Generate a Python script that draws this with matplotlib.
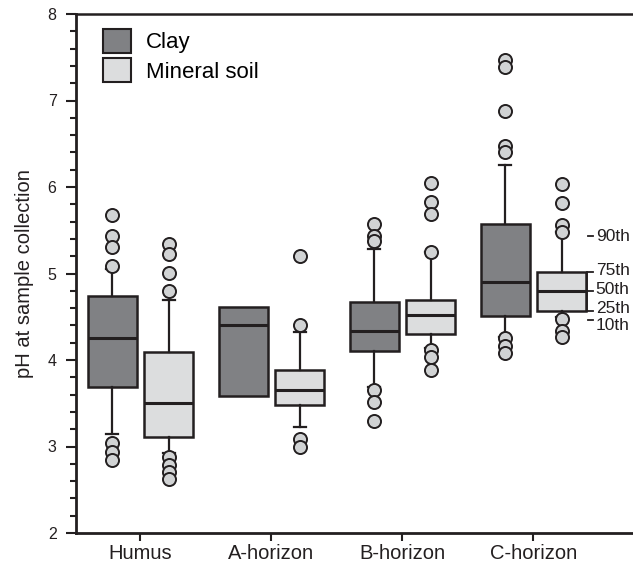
import matplotlib
matplotlib.use("Agg")
import matplotlib.pyplot as plt
from matplotlib.patches import Patch
from matplotlib.ticker import MultipleLocator

plt.rcParams['font.family'] = ['Liberation Sans', 'DejaVu Sans']

horizons = ['Humus', 'A-horizon', 'B-horizon', 'C-horizon']
series = ['Clay', 'Mineral soil']

# box statistics (pH)
clay_q1 = [3.69, 3.58, 4.10, 4.51]
clay_med = [4.25, 4.40, 4.34, 4.90]
clay_q3 = [4.74, 4.61, 4.67, 5.57]
clay_lo = [3.14, 3.58, 3.69, 4.27]
clay_hi = [5.05, 4.61, 5.28, 6.25]
clay_out = [[5.68, 5.43, 5.31, 5.09, 3.04, 2.94, 2.84],
            [],
            [5.57, 5.43, 5.37, 3.65, 3.52, 3.30],
            [7.47, 7.39, 6.88, 6.47, 6.40, 4.25, 4.16, 4.08]]

min_q1 = [3.11, 3.48, 4.30, 4.57]
min_med = [3.50, 3.65, 4.52, 4.80]
min_q3 = [4.09, 3.88, 4.69, 5.02]
min_lo = [2.92, 3.23, 4.14, 4.50]
min_hi = [4.69, 4.32, 5.25, 5.48]
min_out = [[5.34, 5.23, 5.01, 4.80, 2.88, 2.79, 2.71, 2.62],
           [5.20, 4.40, 3.09, 2.99],
           [6.05, 5.83, 5.69, 5.25, 4.12, 4.04, 3.89],
           [6.04, 5.82, 5.56, 5.48, 4.47, 4.33, 4.27]]

# percentile key next to the C-horizon mineral soil box
key_labels = ['90th', '75th', '50th', '25th', '10th']
key_marks = [5.43, 5.02, 4.80, 4.57, 4.46]
key_text_y = [5.43, 5.04, 4.81, 4.60, 4.40]

clay_col = '#808184'
min_col = '#dcddde'
edge = '#231f20'
flier_col = '#d1d3d4'

fig = plt.figure(figsize=(6.33, 5.65), dpi=100)
ax = fig.add_axes([76 / 633, 32 / 565, 556 / 633, 519 / 565])

off = 0.2157
width = 0.374


def make_stats(q1, med, q3, lo, hi, out):
    return [dict(q1=a, med=b, q3=c, whislo=d, whishi=e, fliers=f)
            for a, b, c, d, e, f in zip(q1, med, q3, lo, hi, out)]


flierprops = dict(marker='o', markerfacecolor=flier_col, markeredgecolor=edge,
                  markersize=9.4, markeredgewidth=1.4, linestyle='none')
common = dict(widths=width, patch_artist=True, showfliers=True,
              flierprops=flierprops,
              medianprops=dict(color=edge, linewidth=2.2),
              whiskerprops=dict(color=edge, linewidth=1.6),
              capprops=dict(color=edge, linewidth=1.6),
              capwidths=0.09)

pos = list(range(len(horizons)))
r1 = ax.bxp(make_stats(clay_q1, clay_med, clay_q3, clay_lo, clay_hi, clay_out),
            positions=[p - off for p in pos],
            boxprops=dict(facecolor=clay_col, edgecolor=edge, linewidth=1.8),
            **common)
r2 = ax.bxp(make_stats(min_q1, min_med, min_q3, min_lo, min_hi, min_out),
            positions=[p + off for p in pos],
            boxprops=dict(facecolor=min_col, edgecolor=edge, linewidth=1.8),
            **common)

# A-horizon clay has no whiskers
for i in range(len(horizons)):
    if clay_lo[i] == clay_q1[i] and clay_hi[i] == clay_q3[i]:
        for a in r1['caps'][2 * i:2 * i + 2] + r1['whiskers'][2 * i:2 * i + 2]:
            a.set_visible(False)

# percentile key
kx = 3 + off + width / 2
ax.plot([kx + 0.005, kx + 0.005], [key_marks[3], key_marks[1]], color=edge, lw=1.3,
        clip_on=False)
for v in key_marks:
    ax.plot([kx + 0.01, kx + 0.05], [v, v], color=edge, lw=1.3, clip_on=False)
for lab, v in zip(key_labels, key_text_y):
    ax.text(kx + 0.072, v, lab, ha='left', va='center', fontsize=12.5, color=edge)

ax.set_xlim(-0.492, 3.752)
ax.set_ylim(2, 8)
ax.set_xticks(pos)
ax.set_xticklabels(horizons, fontsize=14.5, color=edge)
ax.yaxis.set_major_locator(MultipleLocator(1))
ax.yaxis.set_minor_locator(MultipleLocator(0.2))
ax.tick_params(axis='y', which='major', length=7, width=1.5, labelsize=11.5,
               pad=7, colors=edge)
ax.tick_params(axis='y', which='minor', length=4, width=1.5, colors=edge)
ax.tick_params(axis='x', which='major', length=6, width=1.5, pad=2, colors=edge)
ax.set_ylabel('pH at sample collection', fontsize=14.5, color=edge, labelpad=10)

ax.spines['right'].set_visible(False)
for s in ['left', 'bottom']:
    ax.spines[s].set_linewidth(2)
    ax.spines[s].set_color(edge)
ax.spines['top'].set_linewidth(1.8)
ax.spines['top'].set_color(edge)

handles = [Patch(facecolor=clay_col, edgecolor=edge, linewidth=1.5),
           Patch(facecolor=min_col, edgecolor=edge, linewidth=1.5)]
ax.legend(handles, series, loc='upper left', bbox_to_anchor=(0.0486, 0.971),
          frameon=False, fontsize=16, handlelength=1.26, handleheight=1.26,
          labelspacing=0.23, handletextpad=0.68, borderpad=0, borderaxespad=0)

fig.savefig('out.png', dpi=100)
